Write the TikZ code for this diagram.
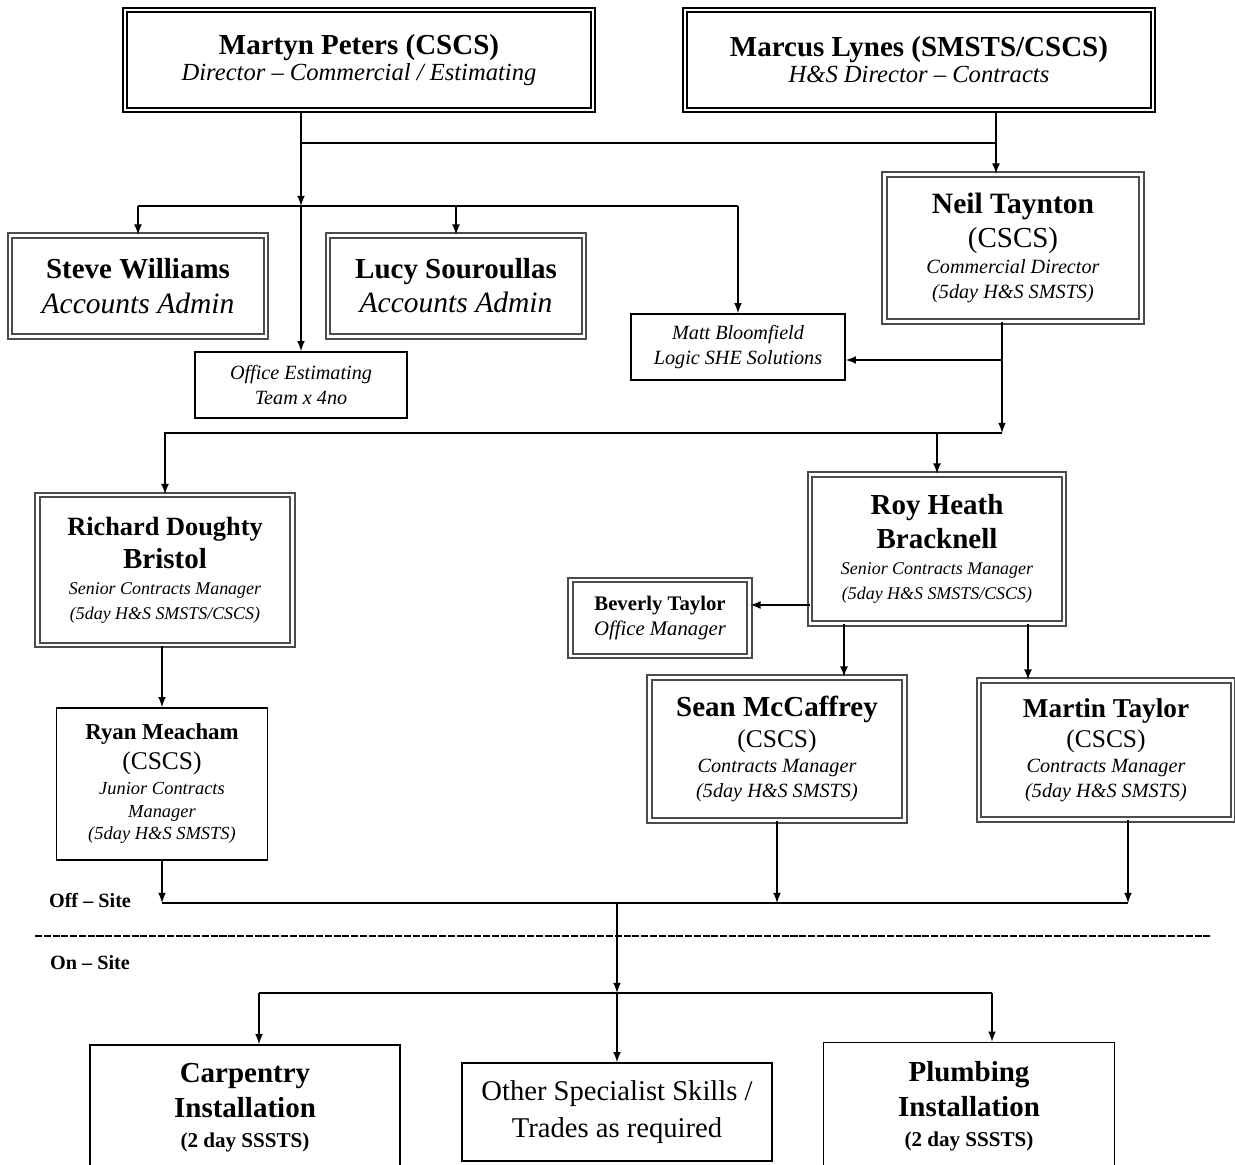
\documentclass[tikz,border=0pt]{standalone}
\usepackage{fontspec}
\setmainfont{Liberation Serif}
\usetikzlibrary{arrows}

\newcommand{\fs}[1]{\fontsize{#1}{#1}\selectfont}

\tikzset{
  dblbox/.style={draw=#1, double, double distance=1.5pt, line width=1pt, align=center, inner sep=0pt},
  dblbox/.default=black!70,
  plainbox/.style={draw, line width=0.9pt, align=center, inner sep=0pt},
  link/.style={line width=1pt, >=latex},
}

\begin{document}
\begin{tikzpicture}[x=0.02cm, y=-0.02cm]
  \useasboundingbox (0,0) rectangle (1235,1165);
  \clip (0,0) rectangle (1235,1165);
  % directors
  \node[dblbox=black, minimum width=9.36cm, minimum height=2cm] (peters) at (359,60)
    {\fs{16.5}\bfseries Martyn Peters (CSCS)\\[1pt] \fs{14}\itshape Director -- Commercial / Estimating};
  \node[dblbox=black, minimum width=9.36cm, minimum height=2cm] (lynes) at (919,60)
    {\fs{16.5}\bfseries Marcus Lynes (SMSTS/CSCS)\\[1pt] \fs{14}\itshape H\&S Director -- Contracts};
  \node[dblbox, minimum width=5.14cm, minimum height=2.94cm] (taynton) at (1013,248)
    {\fs{16.8}\bfseries Neil Taynton\\[3pt] \fs{16.5}(CSCS)\\[3pt] \fs{11.5}\itshape Commercial Director\\[2pt] \fs{11.5}\itshape (5day H\&S SMSTS)};
  % office
  \node[dblbox, minimum width=5.12cm, minimum height=2.02cm] (williams) at (138,286)
    {\fs{16.5}\bfseries Steve Williams\\[8pt] \fs{16.8}\itshape Accounts Admin};
  \node[dblbox, minimum width=5.12cm, minimum height=2.02cm] (souroullas) at (456,286)
    {\fs{16.5}\bfseries Lucy Souroullas\\[3pt] \fs{16.8}\itshape Accounts Admin};
  \node[plainbox, minimum width=4.24cm, minimum height=1.32cm] (estim) at (301,385)
    {\fs{11.5}\itshape Office Estimating\\[2pt] \fs{11.5}\itshape Team x 4no};
  \node[plainbox, minimum width=4.28cm, minimum height=1.32cm] (bloomfield) at (738,347)
    {\fs{11.5}\itshape Matt Bloomfield\\[2pt] \fs{11.5}\itshape Logic SHE Solutions};
  % contracts
  \node[dblbox, minimum width=5.1cm, minimum height=3cm] (doughty) at (165,570)
    {\fs{15}\bfseries Richard Doughty\\[3pt] \fs{16.5}\bfseries Bristol\\[3pt] \fs{10.2}\itshape Senior Contracts Manager\\[2pt] \fs{10.2}\itshape (5day H\&S SMSTS/CSCS)};
  \node[plainbox, minimum width=4.22cm, minimum height=3.04cm] (meacham) at (162,784)
    {\fs{13}\bfseries Ryan Meacham\\[3pt] \fs{14.5}(CSCS)\\[2pt] \fs{10.5}\itshape Junior Contracts\\[1pt] \fs{10.5}\itshape Manager\\[1pt] \fs{10.5}\itshape (5day H\&S SMSTS)};
  \node[dblbox, minimum width=5.08cm, minimum height=2.98cm] (heath) at (937,549)
    {\fs{16.5}\bfseries Roy Heath\\[3pt] \fs{16.5}\bfseries Bracknell\\[3pt] \fs{10.2}\itshape Senior Contracts Manager\\[2pt] \fs{10.2}\itshape (5day H\&S SMSTS/CSCS)};
  \node[dblbox, minimum width=3.58cm, minimum height=1.52cm] (beverly) at (660,618)
    {\fs{11.8}\bfseries Beverly Taylor\\[2pt] \fs{11.8}\itshape Office Manager};
  \node[dblbox, minimum width=5.1cm, minimum height=2.86cm] (mccaffrey) at (777,749)
    {\fs{16.5}\bfseries Sean McCaffrey\\[3pt] \fs{14.5}(CSCS)\\[2pt] \fs{11.5}\itshape Contracts Manager\\[2pt] \fs{11.5}\itshape (5day H\&S SMSTS)};
  \node[dblbox, minimum width=5.08cm, minimum height=2.78cm] (mtaylor) at (1106,750)
    {\fs{15.5}\bfseries Martin Taylor\\[3pt] \fs{14.5}(CSCS)\\[2pt] \fs{11.5}\itshape Contracts Manager\\[2pt] \fs{11.5}\itshape (5day H\&S SMSTS)};
  % site
  \node[plainbox, minimum width=6.2cm, minimum height=2.52cm] (carpentry) at (245,1108)
    {\fs{16.5}\bfseries Carpentry\\[4pt] \fs{16.5}\bfseries Installation\\[5pt] \fs{12}\bfseries (2 day SSSTS)};
  \node[plainbox, minimum width=6.2cm, minimum height=1.96cm] (specialist) at (617,1112)
    {\fs{16.3}Other Specialist Skills /\\[5pt] \fs{16.3}Trades as required};
  \node[plainbox, minimum width=5.82cm, minimum height=2.54cm] (plumbing) at (969,1106)
    {\fs{16.5}\bfseries Plumbing\\[4pt] \fs{16.5}\bfseries Installation\\[5pt] \fs{12}\bfseries (2 day SSSTS)};
  \node[font=\fs{11.5}\bfseries] (offsite) at (90,900) {Off -- Site};
  \node[font=\fs{11.5}\bfseries] (onsite) at (90,963) {On -- Site};

  % junctions
  \coordinate (top) at (301,143);
  \coordinate (hub1) at (301,206);
  \coordinate (lj) at (996,143);
  \coordinate (nt) at (1002,360);
  \coordinate (hub2) at (1002,433);
  \coordinate (bv) at (810,605);
  \coordinate (hs) at (844,0);
  \coordinate (ht) at (1028,0);
  \coordinate (mt) at (1128,903);
  \coordinate (off) at (617,903);
  \coordinate (hub3) at (617,993);
  \coordinate (cp) at (259,993);
  \coordinate (pl) at (992,993);
  \coordinate (dl) at (35,936);
  \coordinate (dr) at (1210,936);

  \draw[link, ->] (peters.south -| top) -- (hub1);
  \draw[link, ->] (hub1) -- (estim.north);
  \draw[link] (top) -- (lj);
  \draw[link, ->] (lynes.south -| lj) -- (taynton.north -| lj);
  \draw[link, ->] (williams.north |- hub1) -- (williams.north);
  \draw[link] (williams.north |- hub1) -- (bloomfield.north |- hub1);
  \draw[link, ->] (souroullas.north |- hub1) -- (souroullas.north);
  \draw[link, ->] (bloomfield.north |- hub1) -- (bloomfield.north);
  \draw[link, ->] (taynton.south -| hub2) -- (hub2);
  \draw[link, ->] (nt) -- (bloomfield.east |- nt);
  \draw[link, ->] (hub2) -| (doughty.north);
  \draw[link, ->] (heath.north |- hub2) -- (heath.north);
  \draw[link, ->] (doughty.south -| meacham) -- (meacham.north);
  \draw[link, ->] (bv) -- (beverly.east |- bv);
  \draw[link, ->] (heath.south -| hs) -- (mccaffrey.north -| hs);
  \draw[link, ->] (heath.south -| ht) -- (mtaylor.north -| ht);
  \draw[link, ->] (meacham.south) -- (meacham.south |- off);
  \draw[link, ->] (mccaffrey.south) -- (mccaffrey.south |- off);
  \draw[link, ->] (mtaylor.south -| mt) -- (mt);
  \draw[link] (meacham.south |- off) -- (mt);
  \draw[link, ->] (off) -- (hub3);
  \draw[link] (cp) -- (pl);
  \draw[link, ->] (cp) -- (carpentry.north -| cp);
  \draw[link, ->] (hub3) -- (specialist.north);
  \draw[link, ->] (pl) -- (plumbing.north -| pl);
  \draw[line width=0.8pt, dash pattern=on 4pt off 1pt] (dl) -- (dr);
\end{tikzpicture}
\end{document}
